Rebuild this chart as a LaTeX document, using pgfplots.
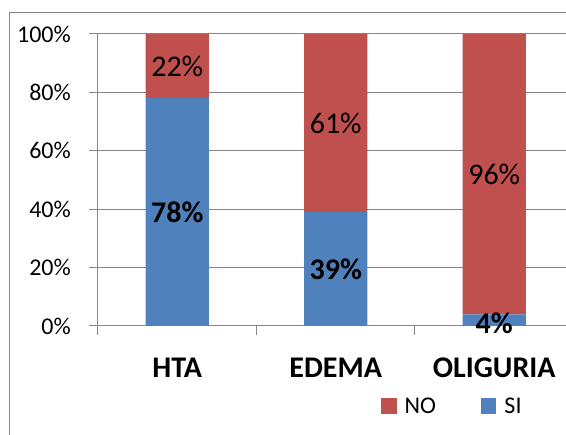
\documentclass[border=0pt]{standalone}
\usepackage{fontspec}
\setmainfont{Carlito}
\usepackage{pgfplots}
\pgfplotsset{compat=1.18}
\definecolor{exred}{HTML}{C0504D}
\definecolor{exblue}{HTML}{4F81BD}
\definecolor{exgray}{HTML}{868686}
\begin{document}
\begin{tikzpicture}
\path[use as bounding box] (0,0) rectangle (566pt,-435pt);
\begin{scope}
\clip (0,0) rectangle (566pt,-435pt);
\draw[exgray, line width=1pt] (9pt,-12.5pt) rectangle (620pt,-480pt);
\begin{axis}[
  at={(98pt,-326pt)}, anchor=south west,
  scale only axis, width=475.5pt, height=292pt,
  ybar stacked, bar width=63.4pt,
  xmin=-0.5, xmax=2.5, ymin=0, ymax=100,
  axis line style={exgray, line width=1pt},
  xtick={-0.5,0.5,1.5,2.5}, xticklabels={},
  ytick={0,20,40,60,80,100},
  yticklabels={0\%,20\%,40\%,60\%,80\%,100\%},
  xtick pos=left, ytick pos=left, tick align=outside,
  major tick style={exgray, line width=1pt},
  major tick length=9pt,
  ymajorgrids, grid style={exgray, line width=1pt},
  yticklabel style={font=\fontsize{24}{24}\selectfont, anchor=east, inner sep=0pt, xshift=-18pt},
  extra x ticks={0,1,2},
  extra x tick labels={HTA,EDEMA,OLIGURIA},
  extra x tick style={major tick length=0pt, grid=none,
    tick label style={font=\fontsize{30}{30}\bfseries\selectfont, anchor=base, yshift=-52pt}},
  legend columns=2, reverse legend,
  legend style={at={(0.745,-0.274)}, anchor=center, draw=none, fill=none,
    font=\fontsize{24}{24}\selectfont,
    /tikz/every even column/.append style={column sep=43pt},
    /tikz/every odd column/.append style={column sep=6pt}},
  legend image code/.code={\fill[#1] (0pt,-7.8pt) rectangle (15.6pt,7.8pt);},
]
\addplot[fill=exblue, draw=none] coordinates {(0,78) (1,39) (2,4)};
\addplot[fill=exred, draw=none] coordinates {(0,22) (1,61) (2,96)};
\legend{SI,NO}
\coordinate (a1) at (axis cs:0,89);
\coordinate (a2) at (axis cs:1,69.5);
\coordinate (a3) at (axis cs:2,52);
\coordinate (b1) at (axis cs:0,39);
\coordinate (b2) at (axis cs:1,19.5);
\coordinate (b3) at (axis cs:2,1);
\end{axis}
\node[font=\fontsize{30}{30}\selectfont] at (a1) {22\%};
\node[font=\fontsize{30}{30}\selectfont] at (a2) {61\%};
\node[font=\fontsize{30}{30}\selectfont] at (a3) {96\%};
\node[font=\fontsize{30}{30}\bfseries\selectfont] at (b1) {78\%};
\node[font=\fontsize{30}{30}\bfseries\selectfont] at (b2) {39\%};
\node[font=\fontsize{30}{30}\bfseries\selectfont] at (b3) {4\%};
\end{scope}
\end{tikzpicture}
\end{document}
